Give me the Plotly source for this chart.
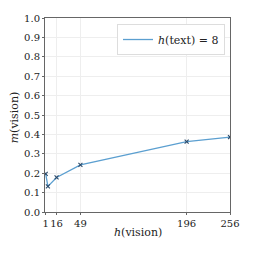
import plotly.graph_objects as go

x_vals = [1, 4, 16, 49, 196, 256]
y_vals = [0.197, 0.132, 0.178, 0.243, 0.363, 0.386]
x_ticks = [1, 16, 49, 196, 256]
y_ticks = [0.0, 0.1, 0.2, 0.3, 0.4, 0.5, 0.6, 0.7, 0.8, 0.9, 1.0]
legend_label = "<i>h</i>(text) = 8"
x_title = "<i>h</i>(vision)"
y_title = "<i>m</i>(vision)"

font = "DejaVu Serif"
fs = 10
line_color = "#5b9fd0"

fig = go.Figure()
fig.add_trace(go.Scatter(
    x=x_vals, y=y_vals, mode="lines+markers",
    line=dict(color=line_color, width=1.3),
    marker=dict(symbol="x-thin", size=4, color="#2b4a6a",
                line=dict(width=1.1, color="#2b4a6a")),
    showlegend=False,
))
fig.add_trace(go.Scatter(
    x=[None], y=[None], mode="lines",
    line=dict(color=line_color, width=1.3),
    name=legend_label,
))

fig.update_layout(
    width=254, height=254,
    margin=dict(l=37, r=32, t=10, b=50),
    paper_bgcolor="white", plot_bgcolor="white",
    font=dict(family=font, size=fs, color="#222"),
    showlegend=True,
    legend=dict(x=0.973, y=0.969, xanchor="right", yanchor="top",
                bgcolor="white", bordercolor="#dddddd", borderwidth=1,
                font=dict(family=font, size=11)),
    xaxis=dict(range=[0, 256], tickvals=x_ticks, ticktext=[str(t) for t in x_ticks],
               tickangle=0, tickfont=dict(family=font, size=fs), automargin=False,
               showgrid=True, gridcolor="#eeeeee", gridwidth=1,
               showline=True, linecolor="#666", linewidth=1, mirror=True,
               ticks="outside", ticklen=2, tickcolor="#666", zeroline=False),
    yaxis=dict(range=[0, 1], tickvals=y_ticks, ticktext=[f"{t:.1f}" for t in y_ticks],
               tickfont=dict(family=font, size=fs), automargin=False,
               showgrid=True, gridcolor="#eeeeee", gridwidth=1,
               showline=True, linecolor="#666", linewidth=1, mirror=True,
               ticks="outside", ticklen=2, tickcolor="#666", zeroline=False),
    annotations=[
        dict(text=x_title, xref="paper", yref="paper", x=0.5, y=-0.105,
             showarrow=False, xanchor="center", yanchor="middle",
             font=dict(family=font, size=11)),
        dict(text=y_title, xref="paper", yref="paper", x=-0.16, y=0.49,
             showarrow=False, xanchor="center", yanchor="middle", textangle=-90,
             font=dict(family=font, size=11)),
    ],
)

fig.write_html("out.html")
